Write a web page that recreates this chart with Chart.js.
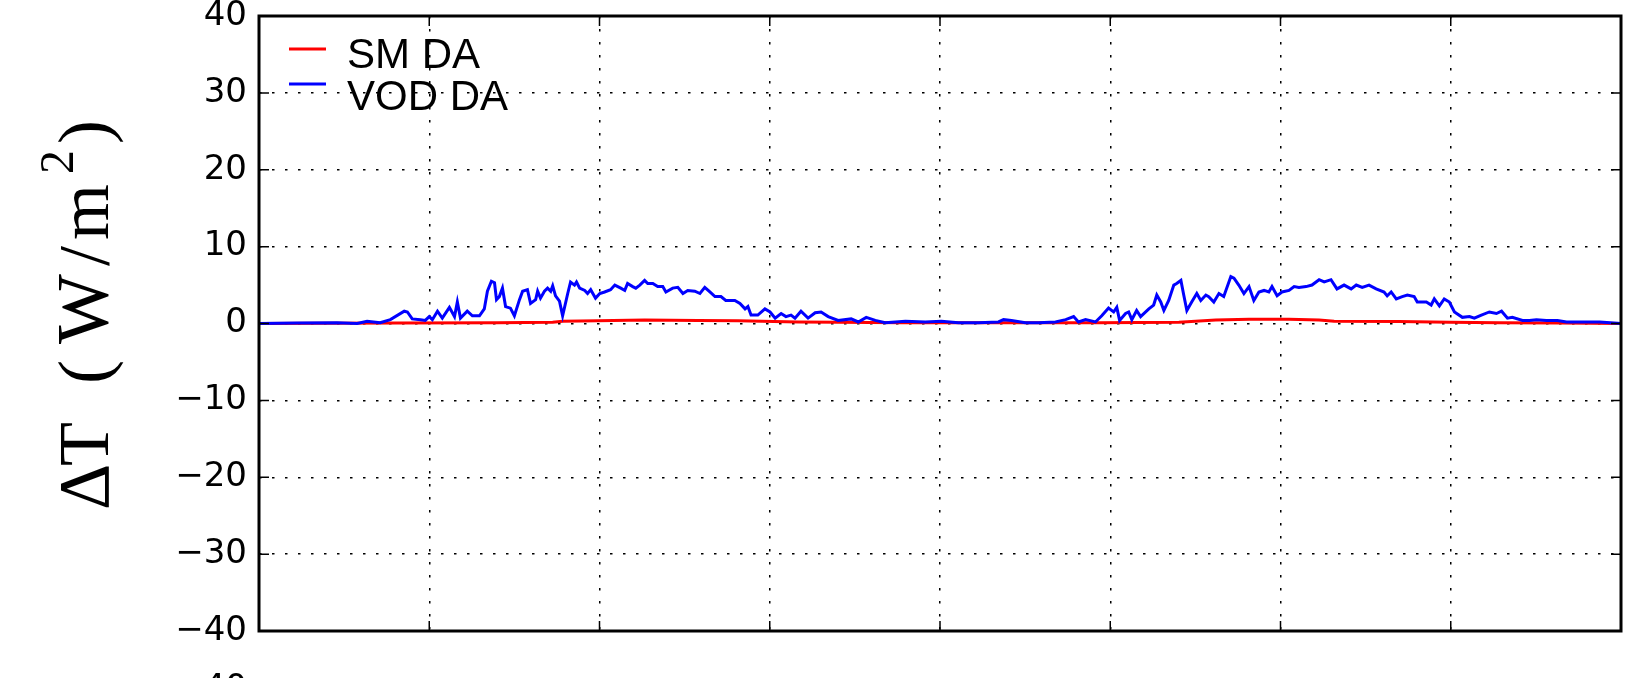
<!DOCTYPE html>
<html>
<head>
<meta charset="utf-8">
<script src="https://cdn.jsdelivr.net/npm/chart.js@4.4.0/dist/chart.umd.min.js"></script>
<style>
  html, body { margin: 0; padding: 0; background: #fff; }
</style>
</head>
<body>
<canvas id="chart" width="1639" height="678"></canvas>
<script>
// x = hours from the start of the window (two days), y = delta T in W/m2
const smHours = [0, 4.87, 8.40, 10.35, 10.70, 11.93, 13.59, 15.47, 16.88, 19.00,
  20.41, 22.67, 26.06, 29.59, 32.42, 33.72, 34.89, 36.30, 37.36, 37.89,
  40.18, 41.95, 43.71, 45.83, 48];
const smValues = [0.0, 0.05, 0.1, 0.15, 0.3, 0.35, 0.45, 0.4, 0.35, 0.2,
  0.15, 0.1, 0.1, 0.1, 0.15, 0.45, 0.55, 0.55, 0.45, 0.3,
  0.25, 0.15, 0.1, 0.05, 0.0];

const vodHours = [
  0, 1.34, 2.75, 3.46, 3.81, 4.27, 4.63, 5.12, 5.23, 5.40,
  5.69, 5.86, 6.00, 6.11, 6.29, 6.46, 6.71, 6.89, 6.99, 7.10,
  7.34, 7.52, 7.77, 7.94, 8.05, 8.19, 8.30, 8.37, 8.47, 8.58,
  8.69, 8.86, 9.00, 9.18, 9.29, 9.46, 9.57, 9.75, 9.82, 9.92,
  10.06, 10.17, 10.28, 10.35, 10.45, 10.59, 10.70, 10.88, 10.98, 11.12,
  11.19, 11.30, 11.48, 11.58, 11.69, 11.86, 12.01, 12.18, 12.39, 12.54,
  12.75, 12.89, 12.99, 13.17, 13.28, 13.42, 13.59, 13.70, 13.88, 14.05,
  14.23, 14.34, 14.58, 14.76, 14.94, 15.11, 15.36, 15.54, 15.71, 15.89,
  16.07, 16.28, 16.45, 16.77, 16.95, 17.13, 17.23, 17.34, 17.58, 17.83,
  18.01, 18.19, 18.40, 18.57, 18.75, 18.89, 19.10, 19.35, 19.60, 19.81,
  20.06, 20.41, 20.87, 21.12, 21.40, 21.72, 22.07, 22.78, 23.48, 24.05,
  24.65, 25.35, 26.06, 26.24, 26.52, 27.01, 27.47, 28.07, 28.43, 28.71,
  28.88, 29.13, 29.48, 29.70, 29.94, 30.12, 30.23, 30.33, 30.54, 30.65,
  30.76, 30.93, 31.07, 31.36, 31.53, 31.64, 31.78, 31.89, 32.06, 32.24,
  32.34, 32.49, 32.59, 32.70, 32.87, 33.05, 33.19, 33.37, 33.47, 33.65,
  33.83, 34.00, 34.25, 34.36, 34.53, 34.71, 34.89, 35.06, 35.24, 35.42,
  35.59, 35.70, 35.88, 36.05, 36.30, 36.48, 36.65, 36.90, 37.11, 37.36,
  37.54, 37.78, 37.99, 38.24, 38.49, 38.67, 38.88, 39.12, 39.37, 39.65,
  39.76, 39.90, 40.08, 40.29, 40.47, 40.71, 40.82, 41.14, 41.31, 41.42,
  41.60, 41.77, 41.95, 42.13, 42.41, 42.66, 42.83, 43.08, 43.36, 43.61,
  43.79, 44.00, 44.17, 44.53, 44.77, 45.02, 45.37, 45.76, 46.08, 46.65,
  47.25, 48];
const vodValues = [
  0, 0.05, 0.1, 0.0, 0.3, 0.1, 0.5, 1.6, 1.5, 0.6,
  0.5, 0.4, 0.9, 0.5, 1.6, 0.7, 2.1, 0.9, 2.8, 0.7,
  1.6, 1.0, 1.0, 1.9, 4.2, 5.5, 5.3, 3.1, 3.5, 4.6,
  2.2, 2.0, 1.0, 3.1, 4.2, 4.4, 2.6, 3.1, 4.2, 3.3,
  4.2, 4.6, 4.2, 4.9, 3.6, 2.9, 1.0, 3.9, 5.4, 5.0,
  5.4, 4.6, 4.3, 3.9, 4.4, 3.3, 3.9, 4.1, 4.4, 5.0,
  4.6, 4.3, 5.2, 4.8, 4.6, 5.0, 5.6, 5.2, 5.2, 4.8,
  4.8, 4.1, 4.6, 4.7, 3.9, 4.3, 4.2, 3.9, 4.7, 4.1,
  3.5, 3.5, 3.0, 3.0, 2.6, 1.9, 2.2, 1.1, 1.1, 1.9,
  1.5, 0.7, 1.3, 0.9, 1.1, 0.7, 1.6, 0.7, 1.4, 1.5,
  0.9, 0.4, 0.6, 0.2, 0.8, 0.4, 0.1, 0.3, 0.2, 0.3,
  0.1, 0.1, 0.2, 0.5, 0.4, 0.1, 0.1, 0.2, 0.5, 0.9,
  0.2, 0.5, 0.2, 1.0, 2.0, 1.5, 2.1, 0.4, 1.3, 1.5,
  0.5, 1.7, 0.9, 1.9, 2.4, 3.7, 2.8, 1.7, 3.0, 5.0,
  5.2, 5.6, 3.7, 1.7, 2.8, 3.9, 3.0, 3.7, 3.5, 2.8,
  3.9, 3.5, 6.1, 5.9, 5.0, 3.9, 4.8, 3.0, 4.1, 4.3,
  4.1, 4.8, 3.6, 4.1, 4.3, 4.8, 4.7, 4.8, 5.0, 5.7,
  5.4, 5.7, 4.5, 5.0, 4.5, 5.0, 4.7, 5.0, 4.5, 4.1,
  3.6, 4.1, 3.2, 3.5, 3.7, 3.5, 2.8, 2.8, 2.4, 3.2,
  2.3, 3.2, 2.8, 1.5, 0.8, 0.9, 0.7, 1.1, 1.5, 1.3,
  1.6, 0.7, 0.8, 0.4, 0.4, 0.5, 0.4, 0.4, 0.2, 0.2,
  0.2, 0.0];

const seriesLabels = ["SM DA", "VOD DA"];
const seriesColors = ["#ff0000", "#0000ff"];
const yMin = -40, yMax = 40, yStep = 10;
const xMin = 0, xMax = 48, xStep = 6;
const cutLabel = "40"; // top tick of the panel below, cut off by the frame
// y title pieces: glyph, offset along the text, size, raise
const yTitleParts = [
  ["\u0394", 0, 72, 0], ["T", 44, 72, 0], ["(", 126, 72, 0], ["W", 166, 74, 0],
  ["/", 244, 72, 0], ["m", 270, 72, 0], ["2", 336, 48, 35], [")", 366, 72, 0]
];

const toPoints = (xs, ys) => xs.map((x, i) => ({ x: x, y: ys[i] }));

// frame, inward ticks, legend and the y title
const decorations = {
  id: "decorations",
  afterDraw(chart) {
    const { ctx, chartArea: a, scales } = chart;
    ctx.save();
    ctx.setLineDash([]);
    ctx.strokeStyle = "#000";
    ctx.lineWidth = 1.5;
    ctx.beginPath();
    scales.y.ticks.forEach(t => {
      const y = scales.y.getPixelForValue(t.value);
      ctx.moveTo(a.left, y); ctx.lineTo(a.left + 10, y);
      ctx.moveTo(a.right, y); ctx.lineTo(a.right - 10, y);
    });
    scales.x.ticks.forEach(t => {
      const x = scales.x.getPixelForValue(t.value);
      ctx.moveTo(x, a.bottom); ctx.lineTo(x, a.bottom - 10);
      ctx.moveTo(x, a.top); ctx.lineTo(x, a.top + 10);
    });
    ctx.stroke();
    ctx.lineWidth = 3;
    ctx.strokeRect(a.left, a.top, a.right - a.left, a.bottom - a.top);

    // legend
    ctx.font = '42px "Liberation Sans"';
    ctx.textAlign = "left";
    ctx.textBaseline = "alphabetic";
    const lineY = [33, 68], textY = [52, 94];
    seriesLabels.forEach((lab, i) => {
      ctx.strokeStyle = seriesColors[i];
      ctx.lineWidth = 3;
      ctx.beginPath();
      ctx.moveTo(a.left + 30, a.top + lineY[i]);
      ctx.lineTo(a.left + 67, a.top + lineY[i]);
      ctx.stroke();
      ctx.fillStyle = "#000";
      ctx.fillText(lab, a.left + 88, a.top + textY[i]);
    });

    // cut-off tick label of the panel below
    ctx.font = '34px "DejaVu Sans"';
    ctx.textAlign = "right";
    ctx.fillText(cutLabel, a.left - 12, 698);

    // y axis title
    ctx.translate(108, 510);
    ctx.rotate(-Math.PI / 2);
    ctx.textAlign = "left";
    yTitleParts.forEach(([g, u, size, raise]) => {
      ctx.font = size + 'px "Liberation Serif"';
      ctx.fillText(g, u, -raise);
    });
    ctx.restore();
  }
};

new Chart(document.getElementById("chart"), {
  type: "line",
  plugins: [decorations],
  data: {
    datasets: [
      {
        label: seriesLabels[1],
        data: toPoints(vodHours, vodValues),
        borderColor: seriesColors[1],
        backgroundColor: seriesColors[1],
        borderWidth: 3,
        pointRadius: 0,
        tension: 0,
      },
      {
        label: seriesLabels[0],
        data: toPoints(smHours, smValues),
        borderColor: seriesColors[0],
        backgroundColor: seriesColors[0],
        borderWidth: 3,
        pointRadius: 0,
        tension: 0,
      },
    ],
  },
  options: {
    responsive: false,
    animation: false,
    layout: { autoPadding: false, padding: { top: 16, right: 18, left: 0, bottom: 0 } },
    plugins: { legend: { display: false }, tooltip: { enabled: false } },
    scales: {
      x: {
        type: "linear",
        min: xMin,
        max: xMax,
        ticks: { stepSize: xStep, display: false },
        grid: { color: "#000", lineWidth: 1.5, drawTicks: false },
        border: { display: false, dash: [2.5, 10.5] },
        afterFit: s => { s.height = 47; s.paddingLeft = 0; s.paddingRight = 0; },
      },
      y: {
        min: yMin,
        max: yMax,
        ticks: {
          stepSize: yStep,
          padding: 12,
          color: "#000",
          font: { family: "DejaVu Sans", size: 34 },
          callback: v => String(v).replace("-", "\u2212"),
        },
        grid: { color: "#000", lineWidth: 1.5, drawTicks: false },
        border: { display: false, dash: [2.5, 10.5] },
        afterFit: s => { s.width = 259; s.paddingTop = 0; s.paddingBottom = 0; },
      },
    },
  },
});
</script>
</body>
</html>
